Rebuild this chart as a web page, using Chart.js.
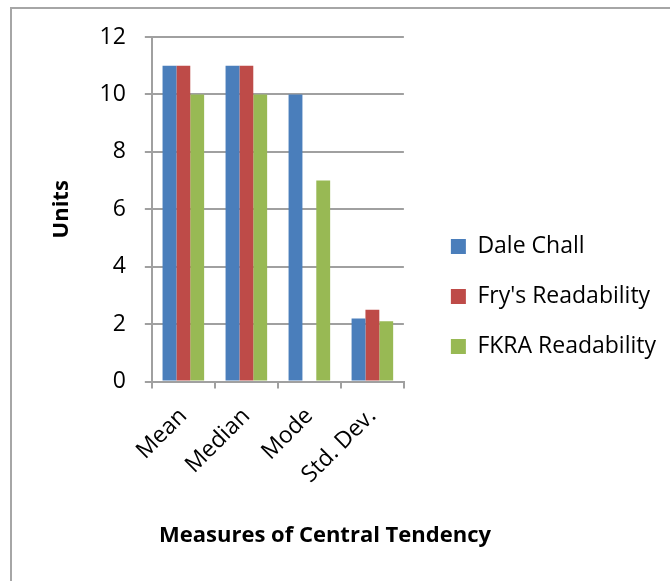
<!DOCTYPE html>
<html>
<head>
<meta charset="utf-8">
<script src="https://cdn.jsdelivr.net/npm/chart.js@4"></script>
<style>
  html, body { margin: 0; padding: 0; background: #fff; }
  #wrap { width: 670px; height: 581px; position: relative; }
</style>
</head>
<body>
<div id="wrap"><canvas id="c" width="670" height="581"></canvas></div>
<script>
const categories = ['Mean', 'Median', 'Mode', 'Std. Dev.'];
const seriesNames = ['Dale Chall', "Fry's Readability", 'FKRA Readability'];
const daleChall = [11, 11, 10, 2.2];
const frysReadability = [11, 11, 0, 2.5];
const fkraReadability = [10, 10, 7, 2.1];
const yTickValues = [0, 2, 4, 6, 8, 10, 12];
const xAxisTitle = 'Measures of Central Tendency';
const yAxisTitle = 'Units';

const FONT = "'Open Sans', 'Liberation Sans', sans-serif";

const framePlugin = {
  id: 'frame',
  beforeDraw(chart) {
    const ctx = chart.ctx;
    ctx.save();
    ctx.fillStyle = '#fff';
    ctx.fillRect(0, 0, chart.width, chart.height);
    ctx.strokeStyle = '#a6a6a6';
    ctx.lineWidth = 2;
    ctx.beginPath();
    ctx.moveTo(11, chart.height);
    ctx.lineTo(11, 8);
    ctx.lineTo(chart.width, 8);
    ctx.stroke();
    ctx.restore();
  },
  afterDraw(chart) {
    // x-axis title centred under the whole chart, as in the reference
    const ctx = chart.ctx;
    const xs = chart.scales.x;
    ctx.save();
    ctx.fillStyle = '#000';
    ctx.font = "bold 22px " + FONT;
    ctx.textAlign = 'center';
    ctx.textBaseline = 'middle';
    ctx.fillText(xAxisTitle, 325, xs.bottom - 20);
    ctx.restore();
  }
};

new Chart(document.getElementById('c'), {
  type: 'bar',
  data: {
    labels: categories,
    datasets: [
      { label: seriesNames[0], data: daleChall, backgroundColor: '#4a7ebb' },
      { label: seriesNames[1], data: frysReadability, backgroundColor: '#be4b48' },
      { label: seriesNames[2], data: fkraReadability, backgroundColor: '#98b954' }
    ]
  },
  plugins: [framePlugin],
  options: {
    responsive: false,
    animation: false,
    devicePixelRatio: 1,
    layout: { padding: { left: 49, top: 37, right: 4, bottom: 25 } },
    datasets: { bar: { barPercentage: 1, categoryPercentage: 0.66, borderWidth: 0 } },
    plugins: {
      tooltip: { enabled: false },
      legend: {
        position: 'right',
        maxWidth: 300,
        labels: {
          boxWidth: 15, boxHeight: 15, padding: 27,
          color: '#000',
          font: { family: FONT, size: 23 }
        }
      }
    },
    scales: {
      x: {
        offset: true,
        grid: { display: true, drawOnChartArea: false, drawTicks: true, tickLength: 7, color: '#a0a0a0', lineWidth: 2, offset: true },
        border: { color: '#a0a0a0', width: 2 },
        ticks: { color: '#000', minRotation: 45, maxRotation: 45, font: { family: FONT, size: 23 }, padding: 14 },
        title: { display: true, text: '', color: '#000', font: { family: FONT, size: 22, weight: 'bold' }, padding: { top: 27, bottom: 0 } }
      },
      y: {
        min: 0, max: 12,
        afterBuildTicks(axis) { axis.ticks = yTickValues.map(v => ({ value: v })); },
        grid: { color: '#a0a0a0', lineWidth: 2, tickLength: 7 },
        border: { color: '#a0a0a0', width: 2 },
        ticks: { color: '#000', font: { family: FONT, size: 23 }, padding: 19 },
        title: { display: true, text: yAxisTitle, color: '#000', font: { family: FONT, size: 22, weight: 'bold' }, padding: { top: 0, bottom: 22 } }
      },
      gap: {
        type: 'linear', position: 'right', display: true,
        grid: { display: false, drawTicks: false }, border: { display: false },
        ticks: { display: false },
        afterFit(axis) { axis.width = 20; }
      }
    }
  }
});
</script>
</body>
</html>
